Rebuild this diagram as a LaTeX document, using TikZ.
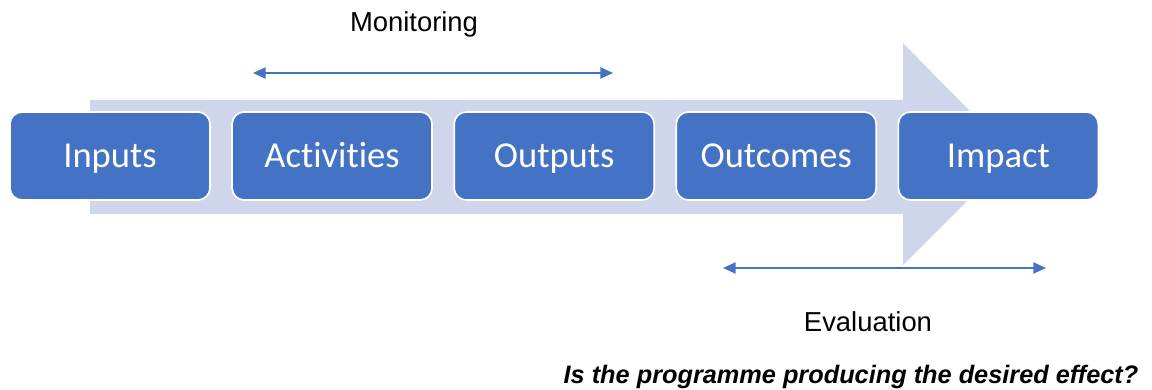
\documentclass[tikz,border=0pt]{standalone}
\usepackage{fontspec}
\setmainfont{Liberation Sans}
\newfontfamily\boxfont[Ligatures={NoCommon}]{Carlito}
\usetikzlibrary{positioning,arrows.meta}
\definecolor{stepblue}{HTML}{4472C4}
\definecolor{shaftgray}{HTML}{CFD5EA}
\tikzset{
  stage/.style={draw=white, line width=1.2pt, fill=stepblue, rounded corners=0.3cm,
    minimum width=5cm, minimum height=2.2cm, text=white,
    text height=23pt, text depth=6pt,
    font=\boxfont\fontsize{26}{30}\selectfont},
  span/.style={draw=stepblue, line width=1pt, {Triangle[length=9pt,width=8pt]}-{Triangle[length=9pt,width=8pt]}},
  label/.style={font=\fontsize{19.5}{23}\selectfont}
}
\begin{document}
\begin{tikzpicture}
    \useasboundingbox (0,0) rectangle (28.8,9.725);
    % background arrow
    \fill[shaftgray] (2.25,4.375) -- (22.575,4.375) -- (22.575,3.1) -- (25.325,5.85)
        -- (22.575,8.65) -- (22.575,7.225) -- (2.25,7.225) -- cycle;
    % stages
    \node[stage] (inputs) at (2.75,5.825) {Inputs};
    \node[stage, right=0.51cm of inputs] (activities) {Activities};
    \node[stage, right=0.51cm of activities] (outputs) {Outputs};
    \node[stage, right=0.51cm of outputs] (outcomes) {Outcomes};
    \node[stage, right=0.51cm of outcomes] (impact) {Impact};
    % monitoring
    \coordinate (monl) at (6.325,7.9);
    \coordinate (monr) at (15.325,7.9);
    \draw[span] (monl) -- (monr);
    \node[label] (monitoring) at (10.35,9.125) {Monitoring};
    % evaluation
    \coordinate (evall) at (18.075,3.025);
    \coordinate (evalr) at (26.15,3.025);
    \draw[span] (evall) -- (evalr);
    \node[label] (evaluation) at (21.7,1.675) {Evaluation};
    \node[font=\bfseries\itshape\fontsize{18}{22}\selectfont] (question) at (21.275,0.3)
        {Is the programme producing the desired effect?};
\end{tikzpicture}
\end{document}
